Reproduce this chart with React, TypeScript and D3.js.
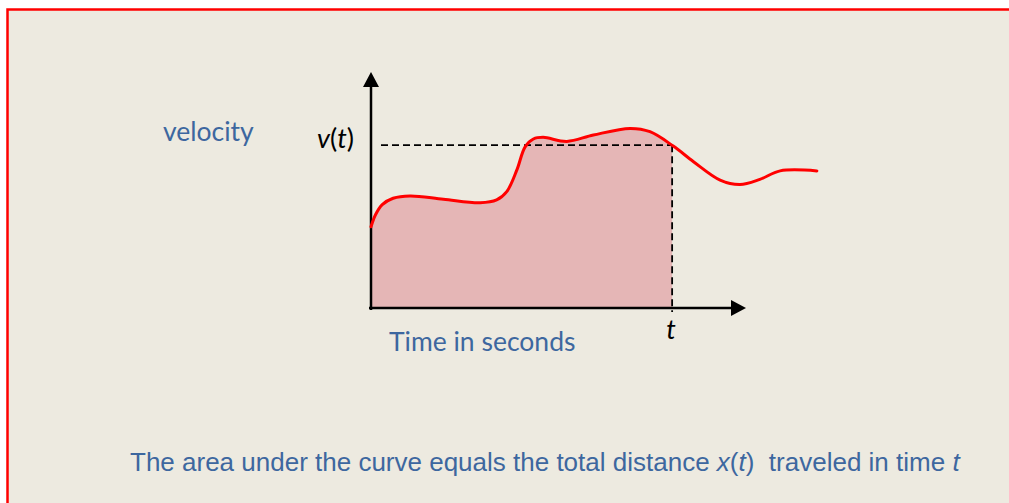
import React from "react";
import * as d3 from "d3";

// Velocity profile: time (s) and velocity samples along the curve
const timeValues = [0, 0.12, 0.3, 0.59, 1.04, 1.93, 2.91, 3.35, 3.62, 3.89, 4.11, 4.33, 4.59, 5.22, 5.93, 6.91, 7.44, 8.06, 8.6, 9.31, 9.84, 10.37, 10.91, 11.89];
const velocityValues = [3.44, 3.95, 4.38, 4.65, 4.75, 4.61, 4.46, 4.58, 4.93, 5.85, 6.83, 7.16, 7.23, 7.06, 7.33, 7.61, 7.47, 6.86, 6.2, 5.42, 5.23, 5.45, 5.81, 5.81];

// The marked instant t and the velocity v(t) reached there
const markTime = 8.03;
const markVelocity = 6.9;

const labels = {
  yTitle: "velocity",
  xTitle: "Time in seconds",
  caption: "The area under the curve equals the total distance ",
};

export default function App() {
  const W = 1009;
  const H = 503;

  const x = d3.scaleLinear().domain([0, 10]).range([371, 746]);
  const y = d3.scaleLinear().domain([0, 10]).range([308, 72]);

  const pts: [number, number][] = timeValues.map((t, i) => [t, velocityValues[i]]);

  const line = d3
    .line<[number, number]>()
    .x((d) => x(d[0]))
    .y((d) => y(d[1]))
    .curve(d3.curveCatmullRom.alpha(0.5));

  const area = d3
    .area<[number, number]>()
    .x((d) => x(d[0]))
    .y0(y(0))
    .y1((d) => y(d[1]))
    .curve(d3.curveCatmullRom.alpha(0.5));

  const x0 = x(0);
  const y0 = y(0);
  const xTop = x(10);
  const yTop = y(10);
  const xm = x(markTime);
  const ym = y(markVelocity);

  const blue = "#3D679F";
  const sans = "Lato, 'Open Sans', sans-serif";

  return (
    <svg
      width={W}
      height={H}
      style={{ position: "absolute", left: 0, top: 0, display: "block" }}
    >
      <defs>
        <clipPath id="underCurve">
          <rect x={x0} y={0} width={xm - x0} height={H} />
        </clipPath>
      </defs>

      <rect x={0} y={0} width={W} height={H} fill="#ffffff" />
      <rect
        x={7.5}
        y={9.5}
        width={W + 20}
        height={H + 20}
        fill="#EDEAE0"
        stroke="#FF0000"
        strokeWidth={2.5}
      />

      {/* shaded area up to t */}
      <path d={area(pts) || ""} fill="#E5B6B6" clipPath="url(#underCurve)" />

      {/* axes */}
      <line x1={x0 - 2} y1={y0} x2={xTop - 12} y2={y0} stroke="#000" strokeWidth={2.5} />
      <path d={`M${xTop},${y0} L${xTop - 15},${y0 - 8} L${xTop - 15},${y0 + 8} Z`} fill="#000" />
      <line x1={x0} y1={y0 + 2} x2={x0} y2={yTop + 12} stroke="#000" strokeWidth={2.5} />
      <path d={`M${x0},${yTop} L${x0 - 8},${yTop + 15} L${x0 + 8},${yTop + 15} Z`} fill="#000" />

      {/* guides to v(t) and t */}
      <line x1={x0 + 10} y1={ym} x2={xm} y2={ym} stroke="#000" strokeWidth={1.8} strokeDasharray="7,4" />
      <line x1={xm} y1={ym} x2={xm} y2={y0 + 4} stroke="#000" strokeWidth={1.8} strokeDasharray="7,4" />

      {/* velocity curve */}
      <path d={line(pts) || ""} fill="none" stroke="#FF0000" strokeWidth={3} strokeLinecap="round" />

      {/* labels */}
      <text x={163} y={141} fill={blue} fontFamily={sans} fontSize={26.5}>
        {labels.yTitle}
      </text>
      <text x={317} y={148} fill="#000" fontFamily={sans} fontSize={27}>
        <tspan fontStyle="italic">v</tspan>(<tspan fontStyle="italic">t</tspan>)
      </text>
      <text x={xm - 1} y={339} fill="#000" fontFamily={sans} fontSize={27} fontStyle="italic" textAnchor="middle">
        t
      </text>
      <text x={389} y={351} fill={blue} fontFamily={sans} fontSize={26.5}>
        {labels.xTitle}
      </text>
      <text x={130} y={471} fill={blue} fontFamily="'Liberation Sans', Arial, sans-serif" fontSize={26}>
        {labels.caption}
        <tspan fontStyle="italic">x</tspan>(<tspan fontStyle="italic">t</tspan>)
        {"\u00a0 traveled in time "}
        <tspan fontStyle="italic">t</tspan>
      </text>
    </svg>
  );
}
